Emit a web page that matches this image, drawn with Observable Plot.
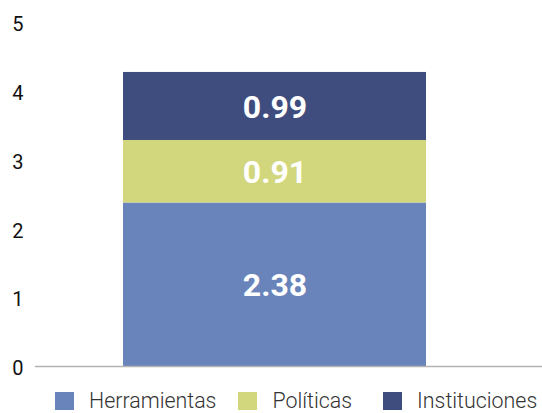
<!DOCTYPE html>
<html>
<head>
<meta charset="utf-8">
<script src="https://cdn.jsdelivr.net/npm/d3@7"></script>
<script src="https://cdn.jsdelivr.net/npm/@observablehq/plot@0.6"></script>
<style>
  html, body { margin: 0; padding: 0; background: #fff; }
  #wrap { width: 542px; font-family: Roboto, "Noto Sans", sans-serif; }
  #legend { display: flex; align-items: center; height: 31px; padding-left: 55px; padding-top: 10px; box-sizing: border-box; }
  .item { display: flex; align-items: center; font-size: 21.4px; color: #333; font-weight: 300; white-space: nowrap; line-height: 21px; }
  .sw { width: 19px; height: 18px; margin-right: 15px; }
</style>
</head>
<body>
<div id="wrap"></div>
<script>
const categories = ["Total"];
const series = ["Herramientas", "Políticas", "Instituciones"];
const values = [2.38, 0.91, 0.99];
const colors = ["#6884BB", "#D2D67C", "#3E4C7E"];
const yTicks = [0, 1, 2, 3, 4, 5];

const data = series.map((s, i) => ({cat: categories[0], series: s, value: values[i]}));

const chart = Plot.plot({
  width: 542,
  height: 380,
  marginTop: 22.5,
  marginBottom: 14,
  marginLeft: 35,
  marginRight: 0,
  style: {fontFamily: "Roboto, sans-serif", background: "#fff"},
  x: {domain: categories, paddingInner: 0, paddingOuter: 0.334, align: 0.4335, axis: null},
  y: {domain: [0, 5], ticks: yTicks, label: null},
  color: {domain: series, range: colors},
  marks: [
    Plot.barY(data, Plot.stackY({x: "cat", y: "value", fill: "series", z: "series", order: null})),
    Plot.text(data, Plot.stackY({x: "cat", y: "value", z: "series", order: null, text: d => d.value.toFixed(2), fill: "white", fontSize: 32, fontWeight: "bold", dy: 1})),
    Plot.ruleY([0], {stroke: "#b3b3b3", strokeWidth: 1.5}),
    Plot.axisY({ticks: yTicks, tickFormat: d3.format("d"), tickSize: 0, tickPadding: 12, fontSize: 20, fill: "#111", dy: 2, label: null})
  ]
});

const wrap = document.getElementById("wrap");
wrap.appendChild(chart);

const legend = document.createElement("div");
legend.id = "legend";
const gaps = [22, 31, 0];
series.forEach((s, i) => {
  const it = document.createElement("div");
  it.className = "item";
  it.style.marginRight = gaps[i] + "px";
  const sw = document.createElement("div");
  sw.className = "sw";
  sw.style.background = colors[i];
  const t = document.createElement("span");
  t.textContent = s;
  it.appendChild(sw);
  it.appendChild(t);
  legend.appendChild(it);
});
wrap.appendChild(legend);
</script>
</body>
</html>
